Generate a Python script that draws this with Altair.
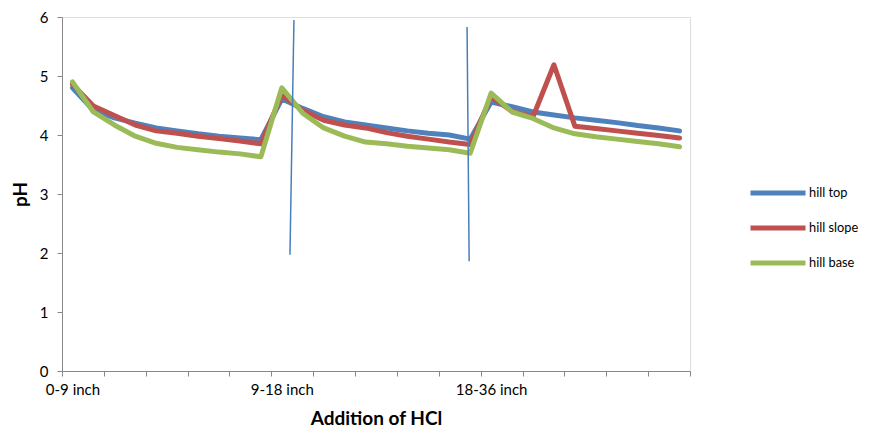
import altair as alt
import pandas as pd

series_names = ["hill top", "hill slope", "hill base"]
series_colors = ["#4F81BD", "#C0504D", "#9BBB59"]
group_labels = ["0-9 inch", "9-18 inch", "18-36 inch"]

hill_top = [4.80, 4.42, 4.29, 4.20, 4.12, 4.07, 4.02, 3.98, 3.95, 3.92,
            4.61, 4.45, 4.31, 4.22, 4.17, 4.12, 4.07, 4.03, 4.00, 3.93,
            4.56, 4.48, 4.39, 4.34, 4.29, 4.25, 4.21, 4.16, 4.12, 4.07]
hill_slope = [4.86, 4.49, 4.33, 4.17, 4.07, 4.03, 3.98, 3.94, 3.90, 3.85,
              4.68, 4.42, 4.25, 4.17, 4.12, 4.04, 3.98, 3.93, 3.88, 3.84,
              4.65, 4.40, 4.31, 5.19, 4.15, 4.11, 4.07, 4.03, 3.99, 3.95]
hill_base = [4.90, 4.39, 4.17, 3.98, 3.86, 3.79, 3.75, 3.71, 3.68, 3.63,
             4.80, 4.37, 4.12, 3.98, 3.88, 3.85, 3.81, 3.78, 3.75, 3.69,
             4.71, 4.39, 4.28, 4.12, 4.02, 3.97, 3.93, 3.89, 3.85, 3.80]

# hand-drawn divider strokes (data coordinates: category position, pH)
div_x = [11.08, 19.35]
div_x2 = [10.89, 19.45]
div_y = [5.95, 5.83]
div_y2 = [1.97, 1.86]

rows = []
for name, vals in zip(series_names, [hill_top, hill_slope, hill_base]):
    for i, v in enumerate(vals):
        rows.append({"pos": i + 0.5, "pH": v, "series": name})
df = pd.DataFrame(rows)
dividers = pd.DataFrame({"x": div_x, "x2": div_x2, "y": div_y, "y2": div_y2})

label_expr = ("datum.value == 0 ? '%s' : datum.value == 10 ? '%s' : datum.value == 20 ? '%s' : ''"
              % tuple(group_labels))

FONT = "Lato"

x_enc = alt.X("pos:Q", scale=alt.Scale(domain=[0, 30], nice=False, zero=False),
              axis=alt.Axis(values=list(range(31)), labelExpr=label_expr, labelOffset=10.47,
                            labelOverlap=False, labelFlush=False, labelAlign="center",
                            labelFontSize=15, labelFont=FONT,
                            title="Addition of HCl", titleFontSize=19, titleFontWeight="bold",
                            titlePadding=12, labelPadding=6, tickSize=5, grid=False))
y_enc = alt.Y("pH:Q", scale=alt.Scale(domain=[0, 6], nice=False),
              axis=alt.Axis(values=[0, 1, 2, 3, 4, 5, 6], format="d", title="pH", titleFontSize=19,
                            labelFontSize=15, labelFont=FONT,
                            titleFontWeight="bold", titlePadding=9, labelPadding=9,
                            tickSize=5, grid=False))

lines = alt.Chart(df).mark_line(strokeWidth=5, strokeJoin="round", strokeCap="round").encode(
    x=x_enc,
    y=y_enc,
    color=alt.Color("series:N", sort=series_names,
                    scale=alt.Scale(domain=series_names, range=series_colors),
                    legend=alt.Legend(title=None, orient="none", legendX=686, legendY=158.5,
                                      symbolType="stroke", symbolSize=3025, symbolStrokeWidth=5,
                                      labelFontSize=12.8, labelFont=FONT, labelOffset=1,
                                      rowPadding=0, clipHeight=35, labelColor="#000000")),
    order=alt.Order("pos:Q"),
)

divs = alt.Chart(dividers).mark_rule(color="#4A7EBB", strokeWidth=1.5).encode(
    x="x:Q", x2="x2:Q", y="y:Q", y2="y2:Q"
)

chart = alt.layer(lines, divs).properties(
    width=628, height=354,
    autosize=alt.AutoSizeParams(type="none"),
    padding={"left": 54, "top": 9, "right": 172, "bottom": 58},
).configure_view(stroke=None).configure_axis(
    domainColor="#868686", tickColor="#868686", labelColor="#000000", titleColor="#000000",
    titleFont=FONT, domainWidth=1.2, tickWidth=1.2,
).configure(font=FONT)

chart.save("out.html", embed_options={"renderer": "svg", "actions": False})
